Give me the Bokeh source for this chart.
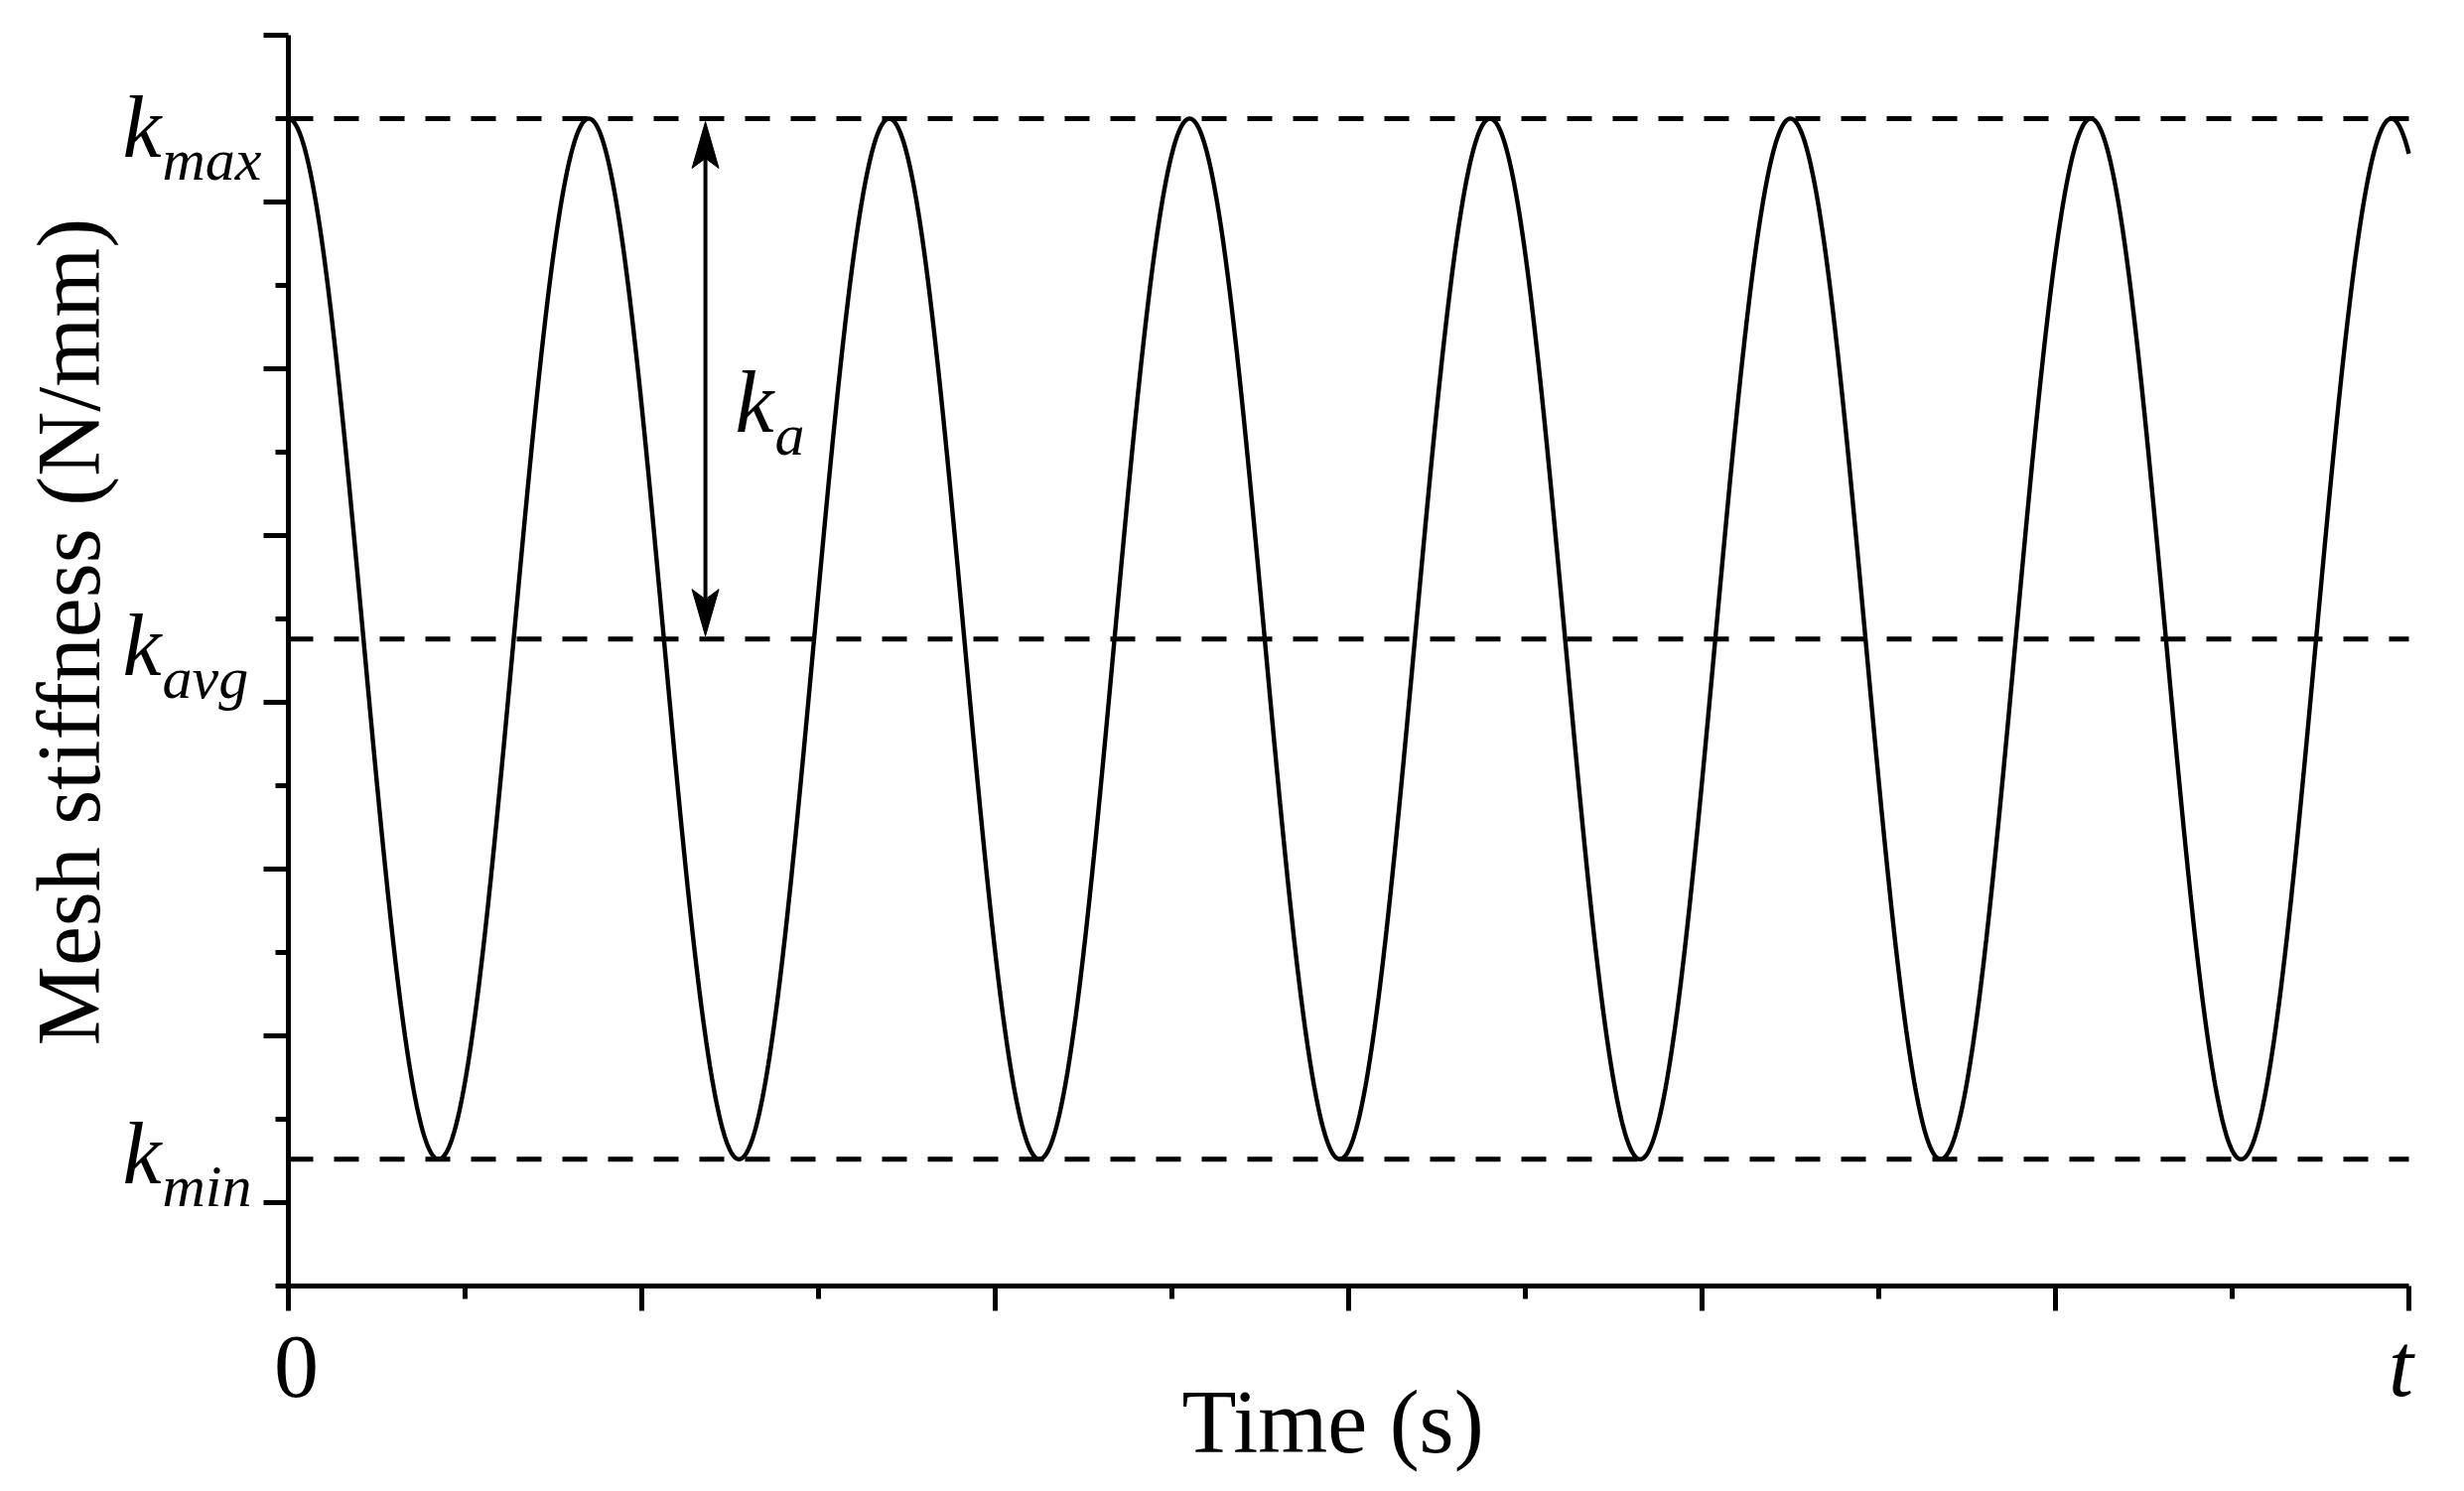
import numpy as np
from bokeh.plotting import figure
from bokeh.models import Range1d, FixedTicker, Label, LinearAxis
from bokeh.embed import file_html
from bokeh.resources import INLINE

# ---------------- data ----------------
time_end = 6.0            # right end of the time axis (labelled "t")
mesh_period = 0.85        # period of the mesh-stiffness oscillation (axis units)
k_max = 6.5               # maximum mesh stiffness
k_avg = 3.38              # average mesh stiffness
k_a = k_max - k_avg       # stiffness amplitude
k_min = k_avg - k_a       # minimum mesh stiffness
arrow_time = 1.18         # time at which the k_a arrow is drawn

x_major_ticks = [0, 1, 2, 3, 4, 5, 6]
x_minor_ticks = [0.5, 1.5, 2.5, 3.5, 4.5, 5.5]
y_major_ticks = [0, 1, 2, 3, 4, 5, 6, 7]
y_minor_ticks = [-0.5, 0.5, 1.5, 2.5, 3.5, 4.5, 5.5, 6.5]
y_axis_min, y_axis_max = -0.5, 7.0
x_tick_labels = ["0", "t"]
level_names = ["max", "avg", "min"]
level_values = [k_max, k_avg, k_min]
level_label_drop = [39, 37, 25]   # px from the dashed line to the label baseline

x_axis_title = "Time (s)"
y_axis_title = "Mesh stiffness (N/mm)"

# ---------------- figure geometry ----------------
W, H = 2466, 1486
AX_LEFT_PX, AX_TOP_PX = 290, 35      # where x=0 and y=7 sit on the page
PX_PER_X, PX_PER_Y = 356.0, 168.0

x_start = -AX_LEFT_PX / PX_PER_X
x_end = x_start + W / PX_PER_X
y_end = y_axis_max + AX_TOP_PX / PX_PER_Y
y_start = y_end - H / PX_PER_Y
xpp, ypp = 1 / PX_PER_X, 1 / PX_PER_Y

p = figure(width=W, height=H, output_backend="svg", toolbar_location=None,
           x_range=Range1d(x_start, x_end), y_range=Range1d(y_start, y_end),
           x_axis_type=None, y_axis_type=None)
p.min_border_left = p.min_border_right = p.min_border_top = p.min_border_bottom = 0
p.outline_line_color = None
p.grid.visible = False
p.background_fill_color = "white"
p.border_fill_color = "white"

AXW = 5
xaxis = LinearAxis(fixed_location=y_axis_min, bounds=(0, time_end),
                   ticker=FixedTicker(ticks=x_major_ticks, minor_ticks=x_minor_ticks),
                   major_label_overrides={t: "" for t in x_major_ticks})
yaxis = LinearAxis(fixed_location=0, bounds=(y_axis_min, y_axis_max),
                   ticker=FixedTicker(ticks=y_major_ticks, minor_ticks=y_minor_ticks),
                   major_label_overrides={t: "" for t in y_major_ticks})
for ax in (xaxis, yaxis):
    ax.axis_line_width = AXW
    ax.axis_line_color = "black"
    ax.major_tick_line_width = AXW
    ax.minor_tick_line_width = AXW
    ax.major_tick_line_color = "black"
    ax.minor_tick_line_color = "black"
    ax.major_tick_in = 0
    ax.minor_tick_in = 0
    ax.major_tick_out = 25
    ax.minor_tick_out = 13
    ax.major_label_standoff = 0
p.add_layout(xaxis, "below")
p.add_layout(yaxis, "left")

# ---------------- dashed reference levels ----------------
for v in level_values:
    p.line([0, time_end], [v, v], line_color="black", line_width=5, line_dash="25 21")

# ---------------- mesh stiffness curve ----------------
t = np.linspace(0, time_end, 4000)
k = k_avg + k_a * np.cos(2 * np.pi * t / mesh_period)
p.line(t, k, line_color="black", line_width=4.4)

# ---------------- k_a double arrow ----------------
head_len, head_w, head_notch = 47, 27, 37
top_tip = k_max - 3 * ypp
bot_tip = k_avg + 3 * ypp
p.patch([arrow_time, arrow_time - head_w / 2 * xpp, arrow_time, arrow_time + head_w / 2 * xpp],
        [top_tip, top_tip - head_len * ypp, top_tip - head_notch * ypp, top_tip - head_len * ypp],
        fill_color="black", line_color="black", line_width=1)
p.patch([arrow_time, arrow_time - head_w / 2 * xpp, arrow_time, arrow_time + head_w / 2 * xpp],
        [bot_tip, bot_tip + head_len * ypp, bot_tip + head_notch * ypp, bot_tip + head_len * ypp],
        fill_color="black", line_color="black", line_width=1)
p.segment(x0=[arrow_time], y0=[top_tip - 30 * ypp], x1=[arrow_time], y1=[bot_tip + 30 * ypp],
          line_color="black", line_width=4)

FONT = "Liberation Serif"
KBIG, BIG, SUB, TICK = 88, 90, 60, 90
FIX = 0.34   # baseline correction (fraction of font size) observed for this renderer

def klabel(x, y, sub, dy_px, dx_px=0):
    p.add_layout(Label(x=x, y=y, text="k", x_offset=dx_px, y_offset=-dy_px + FIX * KBIG,
                       text_font=FONT, text_font_style="italic", text_font_size=f"{KBIG}px",
                       text_align="left", text_baseline="alphabetic", text_color="black"))
    p.add_layout(Label(x=x, y=y, text=sub, x_offset=dx_px + 40, y_offset=-dy_px - 23 + FIX * SUB,
                       text_font=FONT, text_font_style="italic", text_font_size=f"{SUB}px",
                       text_align="left", text_baseline="alphabetic", text_color="black"))

k_label_x = -167 * xpp
for name, v, drop in zip(level_names, level_values, level_label_drop):
    klabel(k_label_x, v, name, drop)

# k_a label next to the arrow
klabel(arrow_time, k_max, "a", 316, dx_px=30)

# ---------------- tick labels & axis titles ----------------
p.add_layout(Label(x=x_major_ticks[0], y=y_axis_min, text=x_tick_labels[0], x_offset=8,
                   y_offset=-112 + FIX * TICK,
                   text_font=FONT, text_font_size=f"{TICK}px", text_align="center",
                   text_baseline="alphabetic", text_color="black"))
p.add_layout(Label(x=x_major_ticks[-1], y=y_axis_min, text=x_tick_labels[1], x_offset=-8,
                   y_offset=-111 + FIX * TICK,
                   text_font=FONT, text_font_style="italic", text_font_size=f"{TICK}px",
                   text_align="center", text_baseline="alphabetic", text_color="black"))

p.add_layout(Label(x=time_end / 2, y=y_axis_min, text=x_axis_title, x_offset=-16,
                   y_offset=-168 + FIX * BIG,
                   text_font=FONT, text_font_size=f"{BIG}px", text_align="center",
                   text_baseline="alphabetic", text_color="black"))
p.add_layout(Label(x=0, y=(y_axis_min + y_axis_max) / 2, text=y_axis_title,
                   x_offset=-190 - FIX * BIG, y_offset=29,
                   angle=np.pi / 2, text_font=FONT, text_font_size=f"{BIG}px", text_align="center",
                   text_baseline="alphabetic", text_color="black"))

open("out.html", "w").write(file_html(p, INLINE))
